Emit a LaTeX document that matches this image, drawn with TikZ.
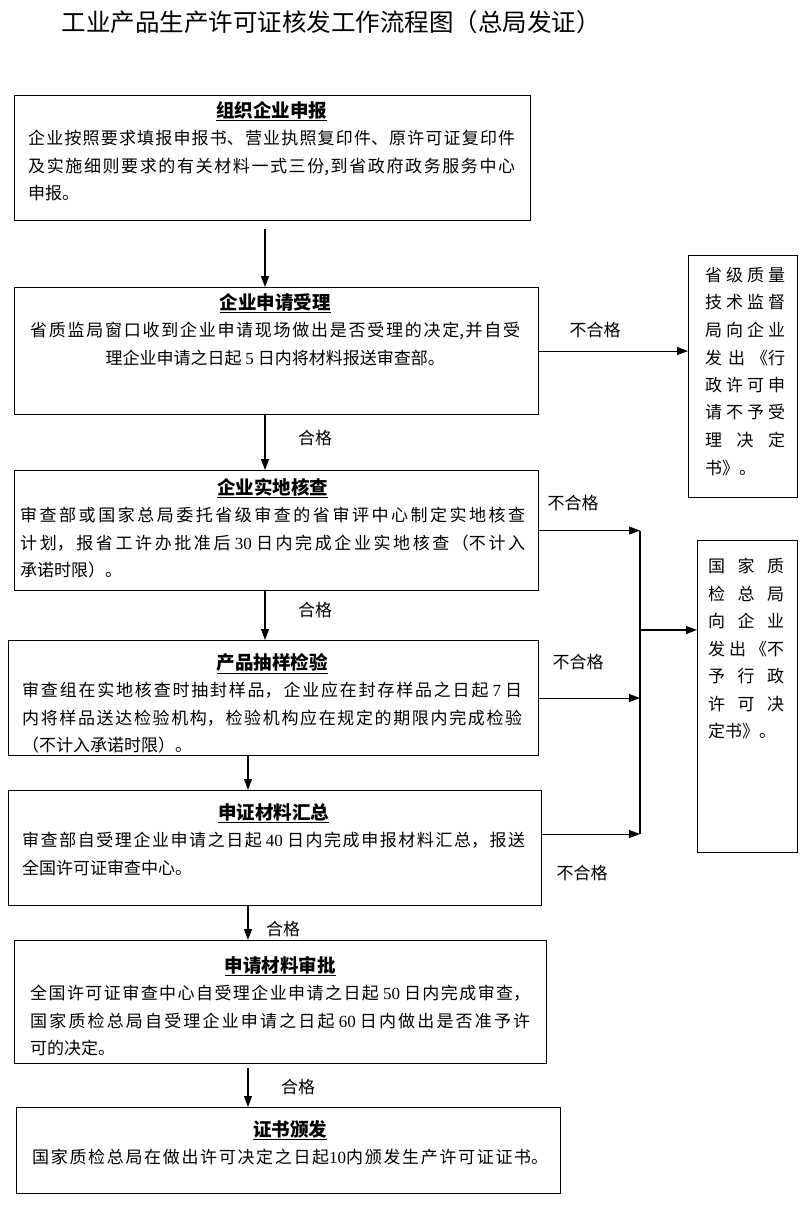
\documentclass[tikz,border=0pt]{standalone}
\usepackage{fontspec}
\setmainfont{Noto Sans CJK SC}
\newfontfamily\lat{Liberation Serif}
\usetikzlibrary{arrows.meta,calc}
\XeTeXlinebreaklocale "zh"
\XeTeXlinebreakskip=0pt plus 12pt
\tolerance=10000
\hbadness=10000
\setlength{\parindent}{0pt}
\setlength{\parskip}{0pt}
\newcommand\jl[1]{{\parfillskip=0pt\relax #1\par}}
\newcommand\hd[1]{\centerline{\fontsize{18.5}{27.5}\selectfont\bfseries\underline{#1}}}
\newcommand\mybox[5]{\node[box, minimum width=#4pt, minimum height=#5pt] (#1) at (#2,#3) {};}
\tikzset{
  box/.style={draw, line width=1.1pt, inner sep=0pt, anchor=north west},
  txt/.style={inner sep=0pt, anchor=north west, align=justify,
    font=\fontsize{17}{27.5}\selectfont},
  arr/.style={line width=1.1pt, -{Triangle[length=11pt,width=8pt]}},
  plain/.style={line width=1.1pt},
  lbl/.style={inner sep=0pt, font=\fontsize{17}{20}\selectfont},
}
\begin{document}
\begin{tikzpicture}[x=1pt,y=-1pt]
\useasboundingbox (0,0) rectangle (800,1207);
\fill[white] (0,0) rectangle (800,1207);
\node[inner sep=0pt, font=\fontsize{24.5}{28}\selectfont] (title) at (331,22) {工业产品生产许可证核发工作流程图（总局发证）};

\mybox{b1}{14}{95}{516}{125}
\mybox{b2}{14}{287}{524}{127}
\mybox{b3}{14}{470}{524}{120}
\mybox{b4}{8}{640}{530}{115}
\mybox{b5}{8}{790}{533}{115}
\mybox{b6}{14}{940}{532}{123}
\mybox{b7}{16}{1107}{544}{86}
\mybox{r1}{688}{255}{109}{242}
\mybox{r2}{697}{540}{100}{312}

\node[txt, text width=487pt] (t1) at (28,101) {\hd{组织企业申报}
\jl{企业按照要求填报申报书、营业执照复印件、原许可证复印件}
\jl{及实施细则要求的有关材料一式三份,到省政府政务服务中心}
申报。};

\node[txt, text width=490pt] (t2) at (30,293) {\hd{企业申请受理}
\jl{省质监局窗口收到企业申请现场做出是否受理的决定,并自受}
\centerline{理企业申请之日起 {\lat 5} 日内将材料报送审查部。}};

\node[txt, text width=505pt] (t3) at (20,478) {\hd{企业实地核查}
\jl{审查部或国家总局委托省级审查的省审评中心制定实地核查}
\jl{计划，报省工许办批准后 {\lat 30} 日内完成企业实地核查（不计入}
承诺时限）。};

\node[txt, text width=500pt] (t4) at (22,653) {\hd{产品抽样检验}
\jl{审查组在实地核查时抽封样品，企业应在封存样品之日起 {\lat 7} 日}
\jl{内将样品送达检验机构，检验机构应在规定的期限内完成检验}
（不计入承诺时限）。};

\node[txt, text width=503pt] (t5) at (22,803) {\hd{申证材料汇总}
\jl{审查部自受理企业申请之日起 {\lat 40} 日内完成申报材料汇总，报送}
全国许可证审查中心。};

\node[txt, text width=500pt] (t6) at (30,956) {\hd{申请材料审批}
\jl{全国许可证审查中心自受理企业申请之日起 {\lat 50} 日内完成审查，}
\jl{国家质检总局自受理企业申请之日起 {\lat 60} 日内做出是否准予许}
可的决定。};

\node[txt, text width=516pt] (t7) at (32,1120) {\hd{证书颁发}
\jl{国家质检总局在做出许可决定之日起{\lat 10}内颁发生产许可证证书。}};

\node[txt, text width=80pt] (tr1) at (705,267) {\jl{省级质量}\jl{技术监督}\jl{局向企业}\jl{发出《行}\jl{政许可申}\jl{请不予受}\jl{理决定}书》。};

\node[txt, text width=76pt] (tr2) at (708,558) {\jl{国家质}\jl{检总局}\jl{向企业}\jl{发出《不}\jl{予行政}\jl{许可决}定书》。};

\coordinate (c1) at (265,0);
\coordinate (c2) at (248,0);
\coordinate (vx) at (640,0);
\draw[arr] ($(b1.south -| c1)+(0,8)$) -- (b2.north -| c1);
\draw[arr] (b2.south -| c1) -- (b3.north -| c1);
\draw[arr] (b3.south -| c1) -- (b4.north -| c1);
\draw[arr] (b4.south -| c2) -- (b5.north -| c2);
\draw[arr] (b5.south -| c2) -- (b6.north -| c2);
\draw[arr] ($(b6.south -| c2)+(0,4)$) -- (b7.north -| c2);

\draw[arr] (b2.east) -- (b2.east -| r1.west);
\coordinate (b5o) at ($(b5.east)+(0,-14)$);
\draw[plain] (b3.east -| vx) -- (b5o -| vx);
\draw[arr] (b3.east) -- (b3.east -| vx);
\draw[arr] (b4.east) -- (b4.east -| vx);
\draw[arr] (b5o) -- (b5o -| vx);
\coordinate (vm) at (640,630);
\draw[arr] (vm) -- (vm -| r2.west);

\node[lbl] (n1) at (595,330) {不合格};
\node[lbl] (n2) at (573,503) {不合格};
\node[lbl] (n3) at (578,662) {不合格};
\node[lbl] (n4) at (582,873) {不合格};
\node[lbl] (g1) at (315,438) {合格};
\node[lbl] (g2) at (315,610) {合格};
\node[lbl] (g3) at (283,929) {合格};
\node[lbl] (g4) at (298,1087) {合格};
\end{tikzpicture}
\end{document}
